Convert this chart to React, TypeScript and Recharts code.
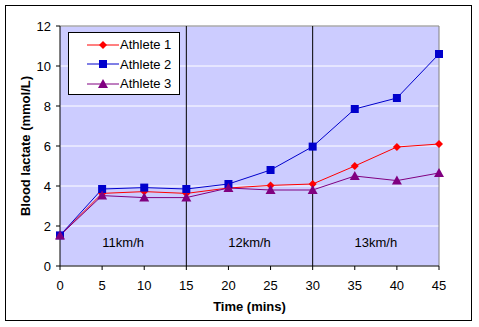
import {
  LineChart,
  Line,
  XAxis,
  YAxis,
  CartesianGrid,
  ReferenceLine,
  ReferenceArea,
} from "recharts";

const times = [0, 5, 10, 15, 20, 25, 30, 35, 40, 45];
const athlete1 = [1.53, 3.63, 3.72, 3.63, 3.9, 4.03, 4.1, 5.0, 5.95, 6.1];
const athlete2 = [1.53, 3.85, 3.92, 3.85, 4.1, 4.8, 5.97, 7.85, 8.4, 10.6];
const athlete3 = [1.53, 3.52, 3.42, 3.42, 3.9, 3.8, 3.8, 4.5, 4.27, 4.65];
const xTicks = [0, 5, 10, 15, 20, 25, 30, 35, 40, 45];
const yTicks = [0, 2, 4, 6, 8, 10, 12];
const stages = [
  { from: 0, to: 15, label: "11km/h" },
  { from: 15, to: 30, label: "12km/h" },
  { from: 30, to: 45, label: "13km/h" },
];
const stageBreaks = [15, 30];

const data = times.map((t, i) => ({
  time: t,
  a1: athlete1[i],
  a2: athlete2[i],
  a3: athlete3[i],
}));

const series = [
  { key: "a1", name: "Athlete 1", color: "#FF0000", marker: "diamond" },
  { key: "a2", name: "Athlete 2", color: "#0000CC", marker: "square" },
  { key: "a3", name: "Athlete 3", color: "#800080", marker: "triangle" },
];

const FONT = "Arial, 'Liberation Sans', sans-serif";

const Marker = ({ cx, cy, type, color }: any) => {
  if (cx == null || cy == null) return null;
  if (type === "square")
    return <rect x={cx - 4} y={cy - 4} width={8} height={8} fill={color} />;
  if (type === "triangle")
    return (
      <polygon
        points={`${cx},${cy - 5} ${cx + 5},${cy + 4} ${cx - 5},${cy + 4}`}
        fill={color}
      />
    );
  return (
    <polygon
      points={`${cx},${cy - 4} ${cx + 4},${cy} ${cx},${cy + 4} ${cx - 4},${cy}`}
      fill={color}
    />
  );
};

// legend drawn as an overlay so it doesn't steal chart space
const LegendBox = () => (
  <div
    style={{
      position: "absolute",
      left: 68,
      top: 32,
      width: 112,
      height: 63,
      background: "#fff",
      border: "1px solid #000",
      boxSizing: "border-box",
      fontFamily: FONT,
      fontSize: 13,
      paddingTop: 2,
    }}
  >
    {series.map((s) => (
      <div key={s.key} style={{ display: "flex", alignItems: "center", height: 19.5 }}>
        <svg width={32} height={12} style={{ marginLeft: 18 }}>
          <line x1={0} y1={6} x2={32} y2={6} stroke={s.color} strokeWidth={1} />
          <Marker cx={16} cy={6} type={s.marker} color={s.color} />
        </svg>
        <span style={{ marginLeft: 1 }}>{s.name}</span>
      </div>
    ))}
  </div>
);

export default function App() {
  return (
    <div style={{ position: "absolute", left: 0, top: 0, width: 479, height: 327, background: "#fff" }}>
      <div
        style={{
          position: "absolute",
          left: 5,
          top: 5,
          width: 467,
          height: 316,
          border: "1px solid #000",
          boxSizing: "border-box",
        }}
      />
      <LineChart
        width={479}
        height={327}
        data={data}
        margin={{ top: 26, right: 40, left: 20, bottom: 31 }}
        style={{ fontFamily: FONT }}
      >
        <CartesianGrid fill="#CCCCFF" stroke="#FFFFFF" vertical={false} />
        <XAxis
          dataKey="time"
          type="number"
          domain={[0, 45]}
          ticks={xTicks}
          height={30}
          stroke="#000"
          tickSize={4}
          tick={{ fill: "#000", fontSize: 13, dy: 9 }}
          label={{ value: "Time (mins)", position: "insideBottom", offset: -15, fill: "#000", fontSize: 13, fontWeight: "bold" }}
        />
        <YAxis
          type="number"
          domain={[0, 12]}
          ticks={yTicks}
          width={40}
          stroke="#000"
          tickSize={4}
          tick={{ fill: "#000", fontSize: 13, dx: -3 }}
          label={{ value: "Blood lactate (mmol/L)", angle: -90, position: "insideLeft", offset: 0, dx: 5, textAnchor: "middle", fill: "#000", fontSize: 13, fontWeight: "bold" }}
        />
        <ReferenceLine y={12} stroke="#808080" />
        <ReferenceLine x={45} stroke="#808080" />
        {stageBreaks.map((b) => (
          <ReferenceLine key={b} x={b} stroke="#000" />
        ))}
        {stages.map((s) => (
          <ReferenceArea
            key={s.label}
            x1={s.from}
            x2={s.to}
            y1={0}
            y2={2.4}
            fillOpacity={0}
            strokeOpacity={0}
            label={{ value: s.label, position: "center", fill: "#000", fontSize: 13 }}
          />
        ))}
        {series.map((s) => (
          <Line
            key={s.key}
            dataKey={s.key}
            name={s.name}
            stroke={s.color}
            strokeWidth={1}
            isAnimationActive={false}
            dot={(p: any) => <Marker key={`${s.key}-${p.index}`} cx={p.cx} cy={p.cy} type={s.marker} color={s.color} />}
            activeDot={false}
          />
        ))}
      </LineChart>
      <LegendBox />
    </div>
  );
}
